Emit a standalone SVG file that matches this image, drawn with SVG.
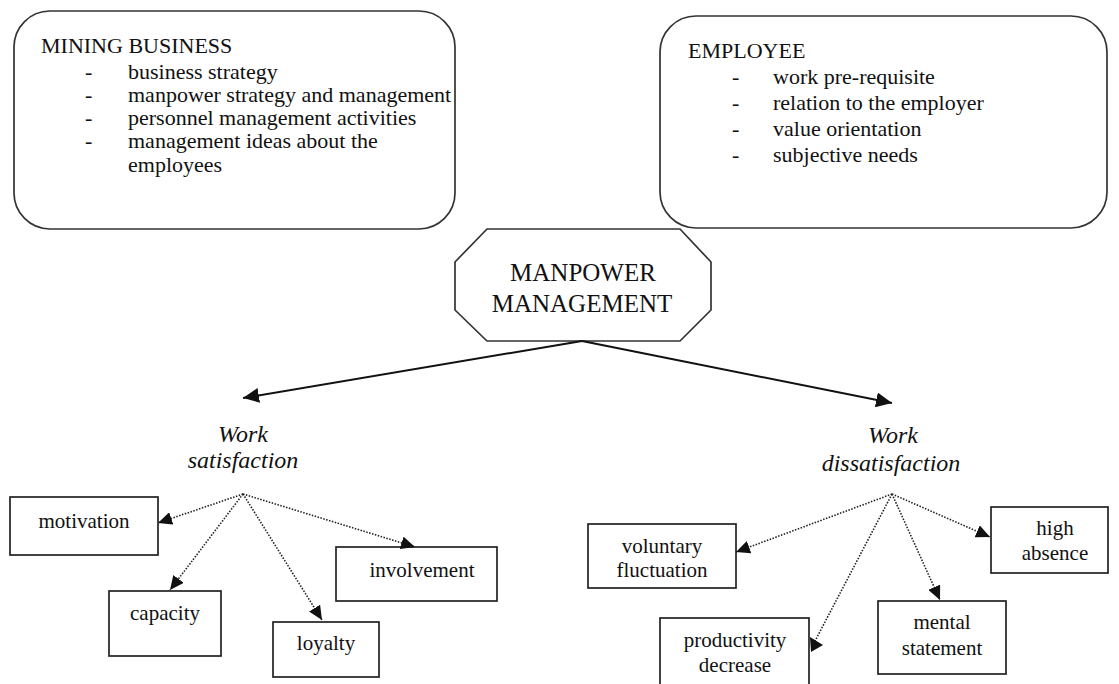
<svg xmlns="http://www.w3.org/2000/svg" width="1119" height="684" viewBox="0 0 1119 684" font-family="'Liberation Serif','Times New Roman',serif">
<defs>
<style>
text{font-family:"Liberation Serif","Times New Roman",serif;fill:#111}
.big{font-size:22px}
.lbl{font-size:21px;text-anchor:middle}
.it{font-size:24px;font-style:italic;text-anchor:middle}
.hd{font-size:25px;text-anchor:middle}
.rbox{fill:#fff;stroke:#333;stroke-width:1.7}
.box{fill:#fff;stroke:#222;stroke-width:1.7}
.solid{fill:none;stroke:#111;stroke-width:2}
.dot{fill:none;stroke:#222;stroke-width:1.6;stroke-dasharray:1.5 1.5}
</style>
<marker id="ah" markerUnits="userSpaceOnUse" markerWidth="17" markerHeight="15" refX="16" refY="7.5" orient="auto">
<path d="M0,0 L16,7.5 L0,15 Z" fill="#111"/>
</marker>
<marker id="ad" markerUnits="userSpaceOnUse" markerWidth="15" markerHeight="13" refX="14" refY="6.5" orient="auto">
<path d="M0,0 L14,6.5 L0,13 Z" fill="#111"/>
</marker>
</defs>
<rect width="1119" height="684" fill="#fff"/>

<g id="mining-business">
<rect class="rbox" x="14" y="11" width="441" height="218" rx="36" ry="36"/>
<text class="big" x="41" y="53">MINING BUSINESS</text>
<text class="big" x="85" y="79">-</text><text class="big" x="128" y="79">business strategy</text>
<text class="big" x="85" y="102">-</text><text class="big" x="128" y="102">manpower strategy and management</text>
<text class="big" x="85" y="125">-</text><text class="big" x="128" y="125">personnel management activities</text>
<text class="big" x="85" y="148">-</text><text class="big" x="128" y="148">management ideas about the</text>
<text class="big" x="128" y="172">employees</text>
</g>

<g id="employee">
<rect class="rbox" x="660" y="16" width="447" height="212" rx="36" ry="36"/>
<text class="big" x="688" y="58">EMPLOYEE</text>
<text class="big" x="732" y="84">-</text><text class="big" x="773" y="84">work pre-requisite</text>
<text class="big" x="732" y="110">-</text><text class="big" x="773" y="110">relation to the employer</text>
<text class="big" x="732" y="136">-</text><text class="big" x="773" y="136">value orientation</text>
<text class="big" x="732" y="162">-</text><text class="big" x="773" y="162">subjective needs</text>
</g>

<g id="manpower-management">
<polygon points="487,229 680,229 711,262 711,310 680,341 487,341 455,310 455,262" fill="#fff" stroke="#333" stroke-width="1.7"/>
<text class="hd" x="583" y="281">MANPOWER</text>
<text class="hd" x="582" y="312">MANAGEMENT</text>
</g>

<g id="work-satisfaction">
<text class="it" x="243" y="442">Work</text>
<text class="it" x="243" y="468">satisfaction</text>
</g>
<g id="work-dissatisfaction">
<text class="it" x="893" y="443">Work</text>
<text class="it" x="891" y="471">dissatisfaction</text>
</g>

<g id="motivation"><rect class="box" x="10" y="497" width="148" height="58"/><text class="lbl" x="84" y="528">motivation</text></g>
<g id="capacity"><rect class="box" x="109" y="591" width="112" height="65"/><text class="lbl" x="165" y="620">capacity</text></g>
<g id="loyalty"><rect class="box" x="273" y="622" width="106" height="55"/><text class="lbl" x="326" y="650">loyalty</text></g>
<g id="involvement"><rect class="box" x="336" y="547" width="161" height="54"/><text class="lbl" x="422" y="577">involvement</text></g>

<g id="voluntary-fluctuation"><rect class="box" x="588" y="524" width="148" height="64"/><text class="lbl" x="662" y="553">voluntary</text><text class="lbl" x="662" y="577">fluctuation</text></g>
<g id="productivity-decrease"><rect class="box" x="660" y="618" width="149" height="80"/><text class="lbl" x="735" y="647">productivity</text><text class="lbl" x="735" y="672">decrease</text></g>
<g id="mental-statement"><rect class="box" x="878" y="601" width="128" height="73"/><text class="lbl" x="942" y="629">mental</text><text class="lbl" x="942" y="655">statement</text></g>
<g id="high-absence"><rect class="box" x="991" y="507" width="117" height="66"/><text class="lbl" x="1055" y="535">high</text><text class="lbl" x="1055" y="560">absence</text></g>

<g id="connectors">
<path class="solid" d="M582,341 L243,398" marker-end="url(#ah)"/>
<path class="solid" d="M582,341 L892,403" marker-end="url(#ah)"/>
<path class="dot" d="M243,494 L158,523" marker-end="url(#ad)"/>
<path class="dot" d="M243,494 L170,590" marker-end="url(#ad)"/>
<path class="dot" d="M243,494 L322,620" marker-end="url(#ad)"/>
<path class="dot" d="M243,494 L415,547" marker-end="url(#ad)"/>
<path class="dot" d="M892,494 L736,552" marker-end="url(#ad)"/>
<path class="dot" d="M892,494 L815,641"/>
<polygon points="810,637 811,652 823,645" fill="#111"/>
<path class="dot" d="M892,494 L940,600" marker-end="url(#ad)"/>
<path class="dot" d="M892,494 L990,537" marker-end="url(#ad)"/>
</g>
</svg>
